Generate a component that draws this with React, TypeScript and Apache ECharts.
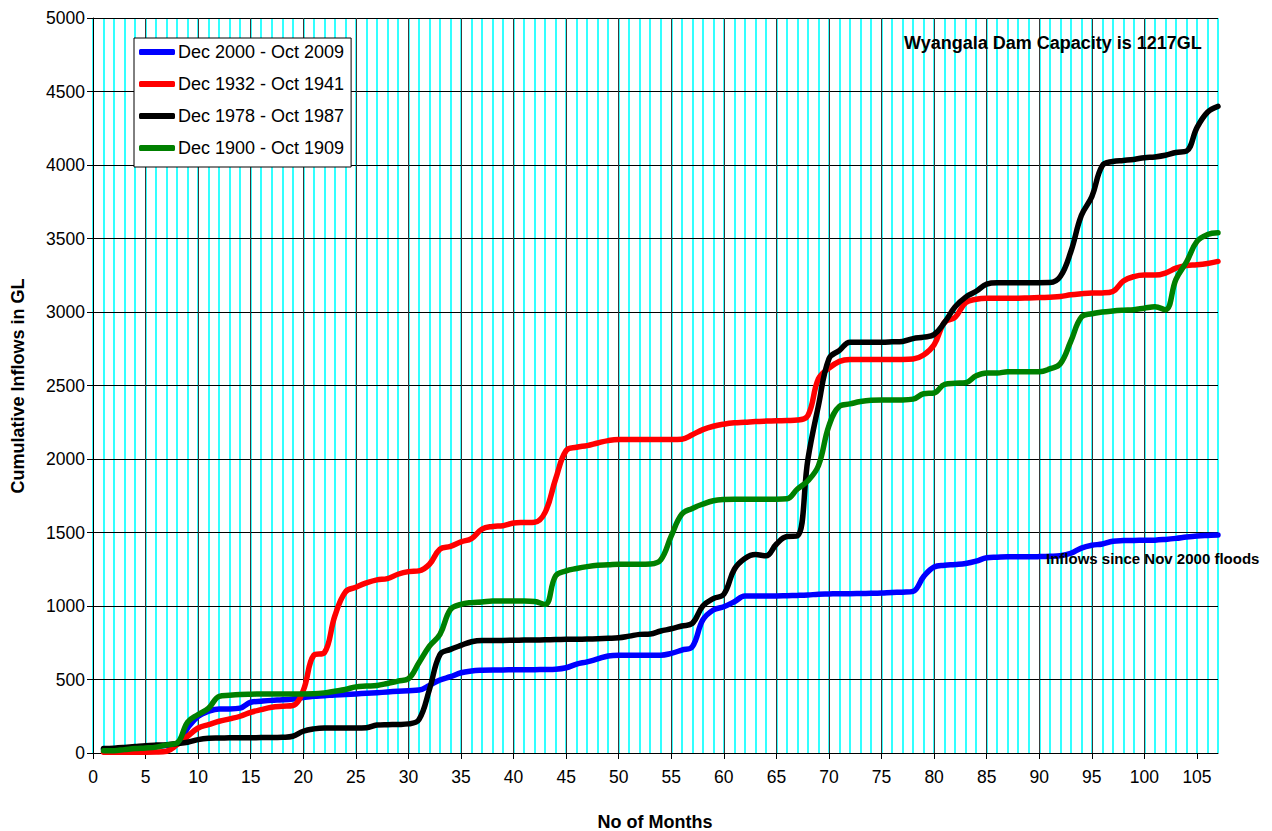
import React, { useEffect, useRef } from "react";
import * as echarts from "echarts";

const FONT = "'Liberation Sans', Arial, Helvetica, sans-serif";

const seriesNames = [
  "Dec 2000 - Oct 2009",
  "Dec 1932 - Oct 1941",
  "Dec 1978 - Oct 1987",
  "Dec 1900 - Oct 1909",
];
const seriesColors = ["#0000FF", "#FF0000", "#000000", "#008000"];

const yTicks = [0, 500, 1000, 1500, 2000, 2500, 3000, 3500, 4000, 4500, 5000];
const xTickLabels = [0, 5, 10, 15, 20, 25, 30, 35, 40, 45, 50, 55, 60, 65, 70, 75, 80, 85, 90, 95, 100, 105];

// cumulative inflows (GL), months 1..107
const blue2000 = [
  25, 28, 32, 36, 40, 45, 52, 65, 170, 250,
  284, 300, 300, 305, 345, 352, 358, 362, 368, 378,
  386, 390, 395, 398, 402, 406, 410, 415, 420, 424,
  428, 460, 497, 519, 546, 558, 563, 565, 565, 566,
  566, 567, 568, 570, 580, 605, 620, 640, 660, 665,
  665, 665, 665, 665, 678, 700, 723, 905, 973, 995,
  1029, 1068, 1068, 1068, 1068, 1070, 1072, 1075, 1080, 1082,
  1084, 1084, 1085, 1086, 1088, 1092, 1094, 1100, 1200, 1265,
  1277, 1282, 1289, 1305, 1328, 1332, 1335, 1335, 1335, 1336,
  1338, 1342, 1359, 1394, 1413, 1422, 1441, 1445, 1446, 1447,
  1448, 1453, 1460, 1469, 1476, 1480, 1483,
];
const red1932 = [
  5, 5, 5, 5, 5, 6, 12, 57, 114, 170,
  193, 216, 232, 250, 277, 295, 311, 318, 323, 425,
  665, 682, 932, 1095, 1128, 1157, 1178, 1186, 1216, 1234,
  1239, 1284, 1387, 1405, 1436, 1459, 1523, 1541, 1546, 1564,
  1568, 1570, 1637, 1864, 2057, 2080, 2091, 2109, 2125, 2132,
  2132, 2132, 2132, 2132, 2132, 2135, 2165, 2200, 2223, 2237,
  2246, 2250, 2255, 2258, 2260, 2262, 2265, 2296, 2546, 2618,
  2664, 2677, 2677, 2677, 2677, 2677, 2677, 2680, 2707, 2777,
  2930, 2965, 3063, 3087, 3094, 3094, 3094, 3094, 3096, 3098,
  3101, 3105, 3117, 3124, 3129, 3130, 3140, 3211, 3241, 3251,
  3251, 3265, 3298, 3316, 3321, 3330, 3344,
];
const black1978 = [
  30, 33, 38, 44, 50, 54, 57, 64, 73, 91,
  100, 102, 103, 104, 104, 105, 105, 107, 114, 148,
  164, 170, 170, 170, 170, 172, 190, 193, 194, 198,
  227, 432, 670, 705, 732, 757, 766, 766, 766, 767,
  768, 769, 770, 772, 773, 774, 775, 777, 780, 784,
  795, 807, 810, 830, 845, 864, 882, 1000, 1050, 1080,
  1250, 1323, 1350, 1341, 1421, 1473, 1477, 2000, 2364, 2682,
  2739, 2795, 2795, 2795, 2795, 2797, 2800, 2819, 2829, 2847,
  2930, 3035, 3101, 3141, 3190, 3199, 3199, 3199, 3199, 3199,
  3200, 3241, 3410, 3656, 3785, 3996, 4024, 4031, 4038, 4050,
  4055, 4066, 4085, 4094, 4254, 4359, 4399,
];
const green1900 = [
  16, 16, 23, 30, 34, 40, 55, 68, 210, 262,
  305, 386, 393, 398, 400, 401, 402, 402, 402, 402,
  403, 409, 420, 432, 450, 455, 459, 473, 489, 505,
  614, 727, 807, 977, 1011, 1023, 1027, 1034, 1034, 1034,
  1034, 1030, 1011, 1205, 1239, 1255, 1268, 1277, 1280, 1284,
  1284, 1284, 1286, 1314, 1477, 1625, 1664, 1693, 1716, 1725,
  1727, 1727, 1727, 1727, 1727, 1730, 1796, 1852, 1955, 2227,
  2359, 2375, 2391, 2400, 2402, 2402, 2402, 2407, 2444, 2449,
  2508, 2515, 2519, 2566, 2585, 2585, 2594, 2594, 2594, 2594,
  2613, 2648, 2801, 2965, 2988, 3000, 3007, 3012, 3016, 3026,
  3035, 3016, 3222, 3340, 3480, 3527, 3539,
];

const allSeries = [blue2000, red1932, black1978, green1900];

export default function App() {
  const ref = useRef<HTMLDivElement>(null);

  useEffect(() => {
    document.body.style.margin = "0";
    const chart = echarts.init(ref.current!, null, { renderer: "svg" });
    const option: any = {
      animation: false,
      backgroundColor: "#ffffff",
      textStyle: { fontFamily: FONT },
      grid: { left: 93, right: 54, top: 18, bottom: 78, containLabel: false },
      xAxis: [
        {
          type: "value",
          min: 0,
          max: 107,
          interval: 5,
          z: 1,
          axisLine: { show: true, onZero: false, lineStyle: { color: "#000", width: 1 } },
          axisTick: {
            show: true,
            inside: false,
            length: 6,
            lineStyle: { color: "#000" },
            customValues: xTickLabels,
          },
          axisLabel: {
            color: "#000",
            fontSize: 17.5,
            fontFamily: FONT,
            margin: 15,
            customValues: xTickLabels,
            formatter: (v: number) => (xTickLabels.indexOf(v) >= 0 ? String(v) : ""),
          },
          splitLine: {
            show: true,
            showMinLine: false,
            showMaxLine: false,
            lineStyle: { color: "#3a3a3a", width: 1 },
          },
        },
        {
          type: "value",
          min: 0,
          max: 107,
          interval: 1,
          z: 0,
          axisLine: { show: false },
          axisTick: { show: false },
          axisLabel: { show: false },
          splitLine: { show: true, lineStyle: { color: "#00FFFF", width: 1.6 } },
        },
      ],
      yAxis: {
        type: "value",
        min: 0,
        max: 5000,
        interval: 500,
        z: 1,
        axisLine: { show: true, lineStyle: { color: "#000", width: 1 } },
        axisTick: { show: true, inside: false, length: 6, lineStyle: { color: "#000" } },
        axisLabel: {
          color: "#000",
          fontSize: 17.5,
          fontFamily: FONT,
          margin: 8,
          formatter: (v: number) => (yTicks.indexOf(v) >= 0 ? String(v) : ""),
        },
        splitLine: { show: true, lineStyle: { color: "#000", width: 1 } },
      },
      legend: {
        show: true,
        orient: "vertical",
        left: 134,
        top: 38,
        backgroundColor: "#ffffff",
        borderColor: "#000",
        borderWidth: 1,
        borderRadius: 0,
        padding: [4, 7, 9, 5],
        icon: "roundRect",
        itemWidth: 36,
        itemHeight: 6,
        itemGap: 12,
        textStyle: {
          fontSize: 18,
          color: "#000",
          fontFamily: FONT,
          lineHeight: 20,
          padding: [0, 0, 0, -2],
        },
        data: seriesNames.map((n, i) => ({ name: n, itemStyle: { color: seriesColors[i] } })),
      },
      series: seriesNames.map((name, i) => ({
        name,
        type: "line",
        xAxisIndex: 0,
        yAxisIndex: 0,
        data: allSeries[i].map((v, j) => [j + 1, v]),
        smooth: 0.4,
        symbol: "none",
        showSymbol: false,
        lineStyle: { color: seriesColors[i], width: 5.5, cap: "round", join: "round" },
        itemStyle: { color: seriesColors[i] },
        z: 2 + i,
      })),
      graphic: [
        {
          type: "text",
          x: 904,
          y: 43,
          z: 10,
          style: {
            text: "Wyangala Dam Capacity is 1217GL",
            fontSize: 18,
            fontWeight: "bold",
            fontFamily: FONT,
            fill: "#000",
            align: "left",
            verticalAlign: "middle",
            textAlign: "left",
            textVerticalAlign: "middle",
          },
        },
        {
          type: "text",
          x: 1046,
          y: 558,
          z: 10,
          style: {
            text: "Inflows since Nov 2000 floods",
            fontSize: 15,
            fontWeight: "bold",
            fontFamily: FONT,
            fill: "#000",
            align: "left",
            verticalAlign: "middle",
            textAlign: "left",
            textVerticalAlign: "middle",
          },
        },
        {
          type: "text",
          x: 18,
          y: 386,
          rotation: Math.PI / 2,
          z: 10,
          style: {
            text: "Cumulative Inflows in GL",
            fontSize: 18,
            fontWeight: "bold",
            fontFamily: FONT,
            fill: "#000",
            align: "center",
            verticalAlign: "middle",
            textAlign: "center",
            textVerticalAlign: "middle",
          },
        },
        {
          type: "text",
          x: 655,
          y: 822,
          z: 10,
          style: {
            text: "No of Months",
            fontSize: 18,
            fontWeight: "bold",
            fontFamily: FONT,
            fill: "#000",
            align: "center",
            verticalAlign: "middle",
            textAlign: "center",
            textVerticalAlign: "middle",
          },
        },
      ],
    };
    chart.setOption(option);
    return () => {
      chart.dispose();
    };
  }, []);

  return <div ref={ref} style={{ width: 1272, height: 831 }} />;
}
